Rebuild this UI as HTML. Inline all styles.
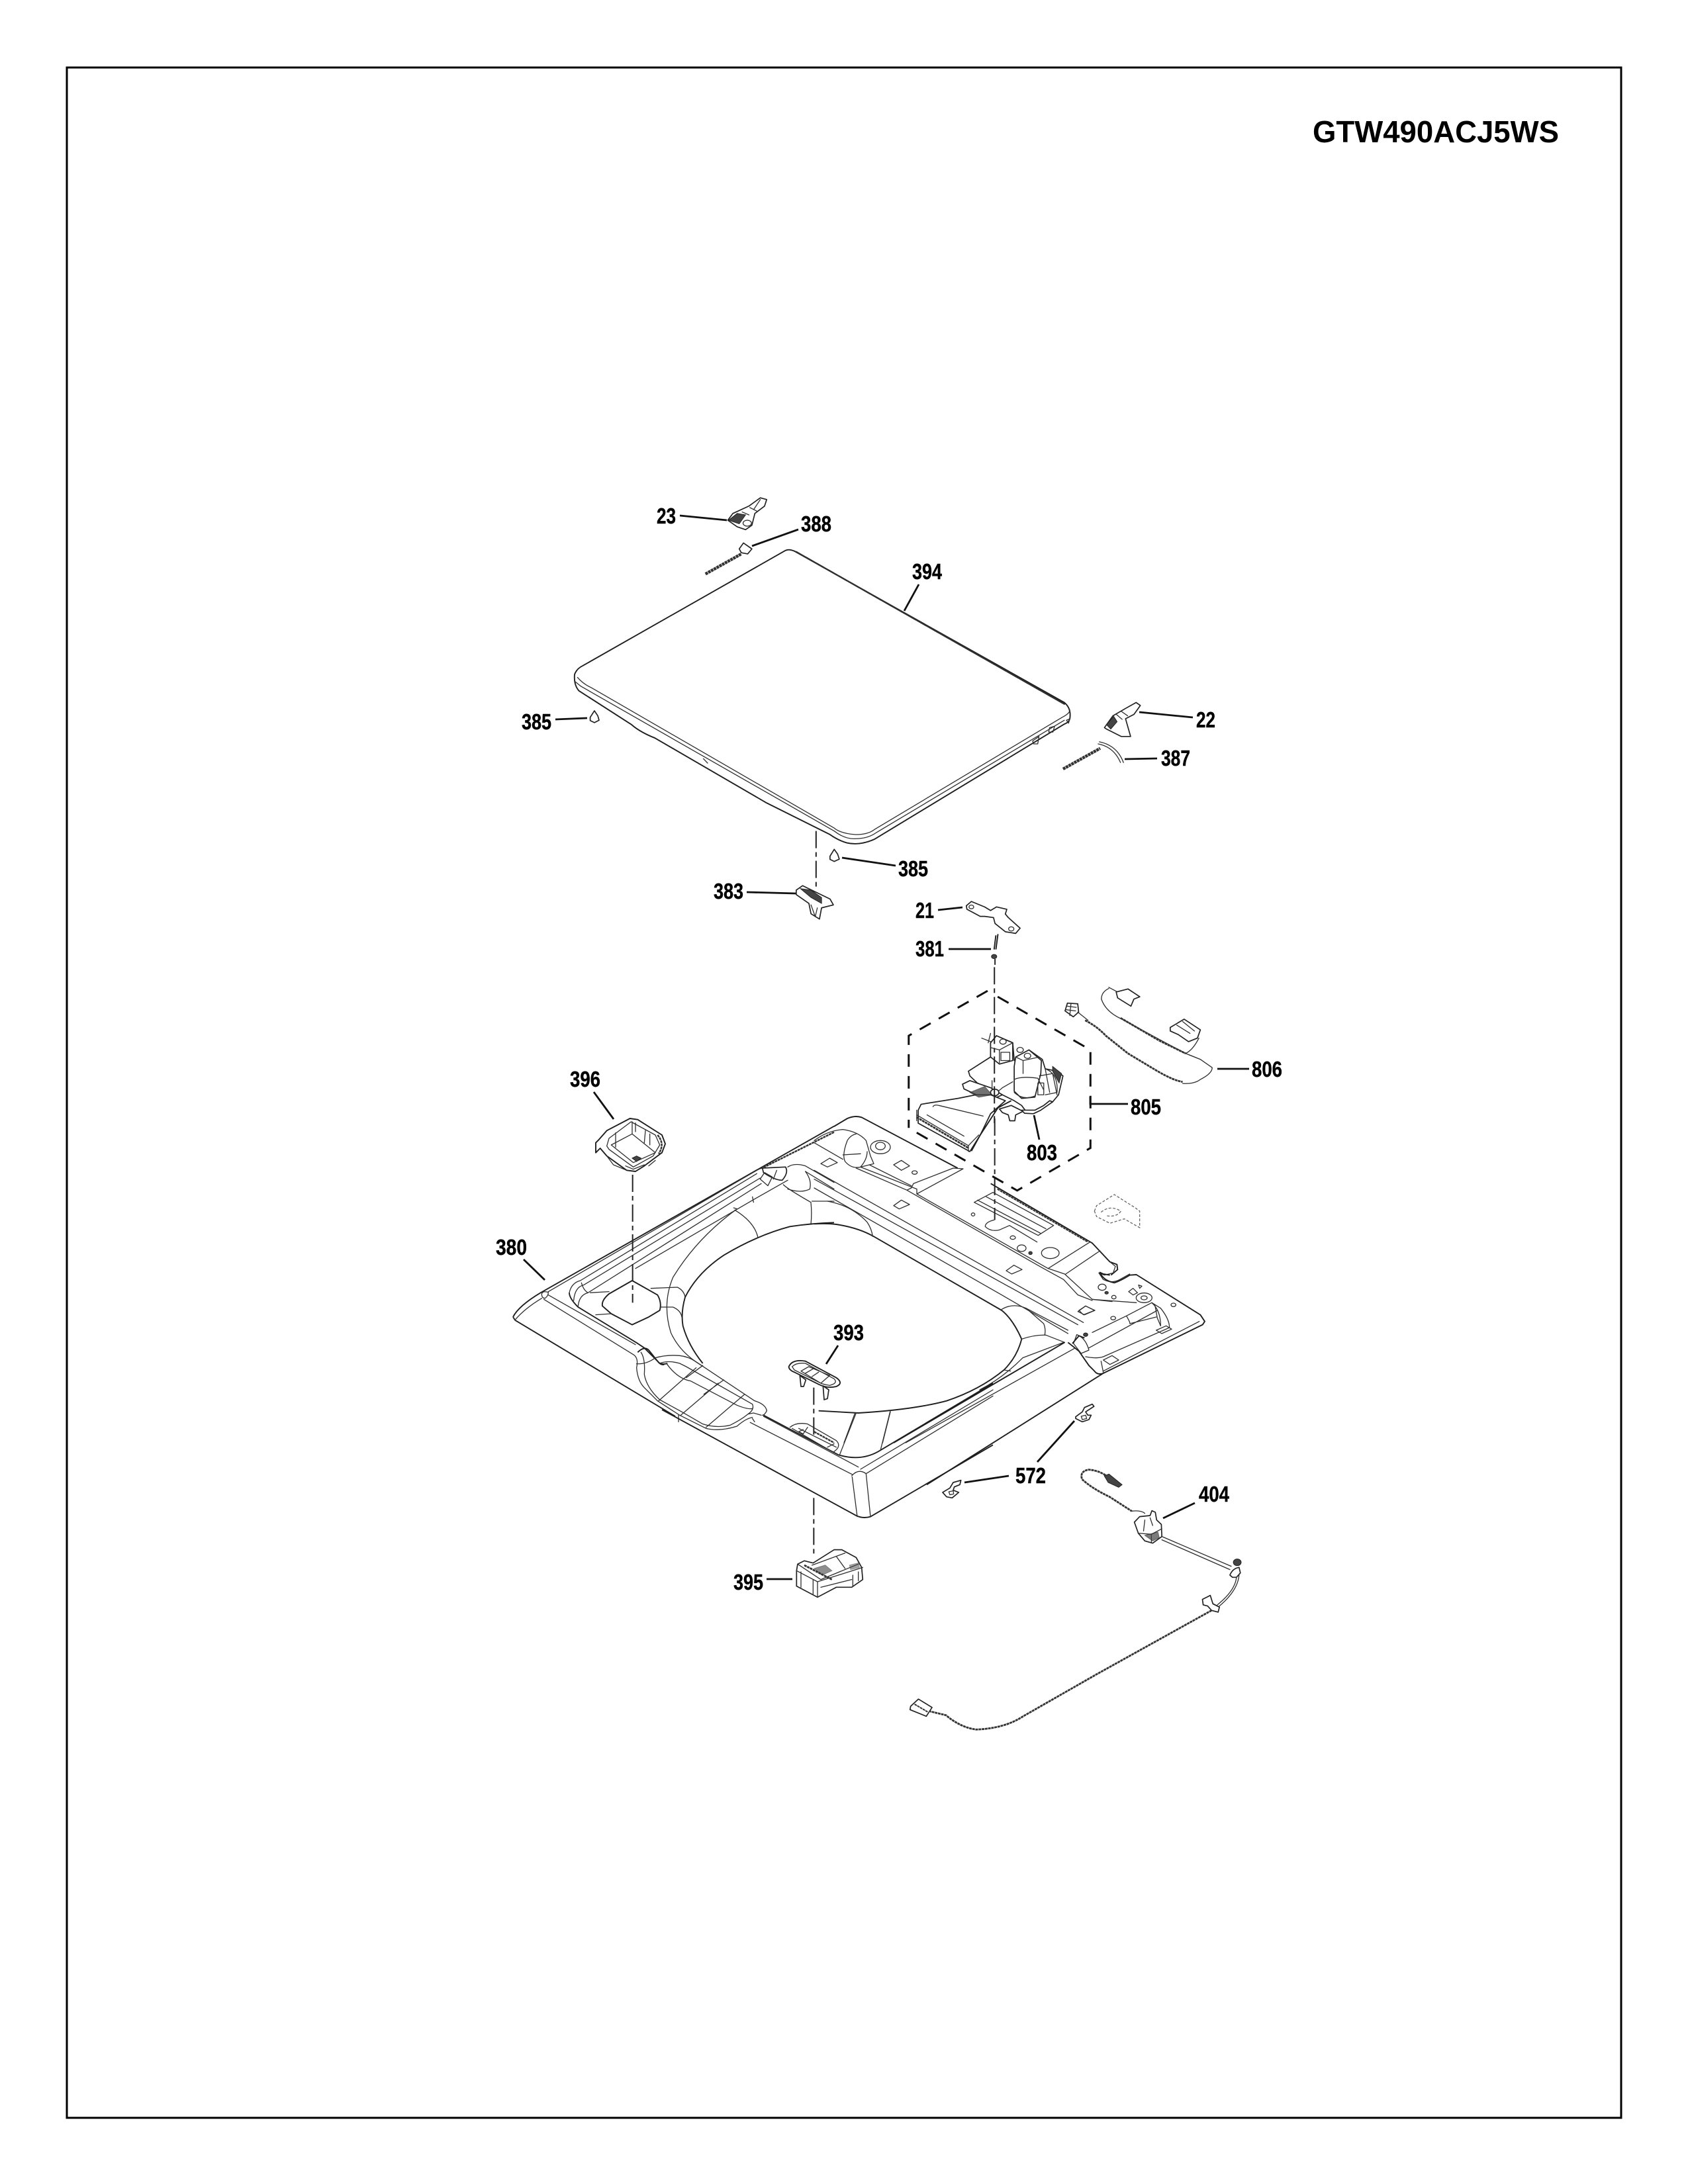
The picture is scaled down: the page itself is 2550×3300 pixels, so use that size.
<!DOCTYPE html>
<html><head><meta charset="utf-8"><style>
html,body{margin:0;padding:0;background:#fff}
svg{display:block}
svg *{vector-effect:non-scaling-stroke}
.l{fill:none;stroke:#2e2e2e;stroke-width:1.3;stroke-linejoin:round;stroke-linecap:round}
.m{fill:none;stroke:#1e1e1e;stroke-width:1.9;stroke-linejoin:round}
.p{fill:#fff;stroke:#222;stroke-width:1.7;stroke-linejoin:round}
.d{fill:#444;stroke:#222;stroke-width:1}
.w{fill:none;stroke:#333;stroke-width:2.8;stroke-dasharray:4 .8}
.ld{fill:none;stroke:#111;stroke-width:2.8}
.ax{fill:none;stroke:#222;stroke-width:2;stroke-dasharray:26 6 7 6}
.hx{fill:none;stroke:#111;stroke-width:3;stroke-dasharray:19 14}
.g{fill:none;stroke:#666;stroke-width:1.3;stroke-dasharray:4 2.5}
text{font-family:"Liberation Sans",sans-serif;font-weight:bold;fill:#000;font-size:33px;stroke:#000;stroke-width:.4}
</style></head><body>
<svg xmlns="http://www.w3.org/2000/svg" width="2550" height="3300" viewBox="0 0 2550 3300">
<rect width="2550" height="3300" fill="#fff"/>
<rect x="101" y="102" width="2348" height="3098" fill="none" stroke="#000" stroke-width="3"/>
<text x="1983" y="215" style="font-size:46px;stroke-width:0" textLength="372" lengthAdjust="spacingAndGlyphs">GTW490ACJ5WS</text>

<!-- TRAY left (crop 760,1640) -->
<g transform="translate(760,1640) scale(.33333)">
<path class="m" d="M45 1050Q70 1000 170 940L1500 185M45 1050L55 1065L780 1500"/>
<path class="l" d="M175 945Q180 930 205 938Q205 955 190 965Q175 965 175 945ZM55 1062Q100 1010 175 965M205 935L1150 385Q1175 370 1190 378"/>
<path class="l" d="M300 940Q310 895 350 885L1150 400M320 975Q325 915 365 905L1165 420M340 1000Q345 950 385 940L1170 445M355 895Q365 930 385 940M600 830L1140 515L1290 430"/>
<path class="m" d="M300 940Q300 965 340 1005L610 1170L640 1190L700 1250Q715 1270 730 1265"/>
<path class="l" d="M205 950L600 1175M185 970L590 1220"/>
<path class="m" d="M585 885L700 950Q720 985 710 1020L660 1050L585 1085L490 1035L450 1000Q445 975 480 945Z"/>
<path class="l" d="M395 940L480 935M420 1040L490 1035M670 920L790 915Q820 930 825 960M715 1005L770 1005Q805 1020 810 1050M1050 565Q1140 620 1155 690M1395 530Q1400 580 1395 630M1270 450Q1290 470 1395 530M1400 525H1500M1370 390Q1400 430 1390 470Q1350 490 1290 470M1130 505L1135 530M1060 560L1045 555"/>
<path class="l" d="M1060 560Q880 690 770 870Q720 990 760 1120Q800 1210 900 1270"/>
<path class="m" d="M1500 622Q1400 625 1300 640Q1150 680 1000 770Q880 850 825 960Q805 1030 815 1090Q840 1180 905 1260"/>
<path class="p" d="M1175 375L1280 370Q1295 395 1265 430Q1230 430 1180 395Z"/>
<path class="l" d="M1165 425L1185 395L1220 415L1200 455ZM1240 385L1225 425"/>
<path class="w" d="M1180 372L1500 212" style="stroke-width:2.5"/>
<path class="l" d="M1290 370Q1320 350 1370 365L1500 440M1370 390L1500 470"/>
<!-- 396 -->
<path class="m" d="M435 245L470 205L575 150L610 155L720 225L735 265L720 305L640 365L600 390L560 385L470 320L440 285L420 305L420 260Z"/>
<path class="l" d="M470 275L480 240L580 165L690 225L710 270L680 320L590 370L480 290ZM490 270L585 220L690 305L590 350ZM585 165V220M600 170V210M510 215V280M645 205L640 260M665 220V270M470 320L500 360L560 385M660 365L690 340M555 365L590 380L640 360"/>
<path class="d" d="M585 330L605 320L625 330L605 345Z"/><path class="w" d="M700 225Q735 265 705 310" style="stroke-width:2.5"/>
<path class="ax" d="M587 405V985"/>
</g>

<!-- TRAY front/handle (crop 760,1900) -->
<g transform="translate(760,1900) scale(.33333)">
<path class="m" d="M610 430Q640 400 660 420L700 470Q715 490 745 480"/>
<path class="l" d="M590 440Q615 455 605 500Q610 560 640 590L700 650L800 715L920 775Q980 790 1060 765Q1100 730 1130 725M625 430Q645 460 640 530Q650 590 710 645L810 700L905 755Q965 775 1030 760Q1080 735 1110 710"/>
<path class="l" d="M690 455Q740 440 800 445Q840 450 870 470L1140 650Q1190 665 1195 695Q1185 715 1175 715M710 480Q750 465 800 480L830 495L1130 665Q1140 690 1110 710L1135 705L1170 715M605 482Q650 485 690 455M740 480Q790 550 850 560L1060 670Q1110 690 1130 685"/>
<path class="l" d="M705 650L875 500M805 715L975 570M920 770L1095 620M905 490L830 545M1000 555L910 620M1130 730L1140 745M795 745V715"/>
<path class="ax" d="M1408 1090V1350"/>
</g>

<!-- TRAY middle (crop 1230,1680) -->
<g transform="translate(1230,1680) scale(.33333)">
<path class="m" d="M90 66L150 30Q185 15 215 25L650 255M800 325L1260 595L1340 680L1372 692L1375 715L1345 740"/>
<path class="w" d="M830 350L1240 590" style="stroke-width:2"/>
<path class="l" d="M0 130Q60 85 130 80Q200 90 235 130L255 200L270 235L210 250Q170 260 140 225Q125 195 150 130Q165 105 190 100M240 180Q240 215 210 250M130 195L210 190"/>
<path class="l" d="M0 140L130 215M210 250L440 340L465 350V372L1060 710L1135 735L1260 850L1350 860M250 240L440 335M190 255L420 355M440 345L420 355L1030 705L1130 760L1195 830L1260 855"/>
<path class="l" d="M0 265L1220 955M0 305L1195 965M0 345L850 830M850 830L1150 1005M450 325L630 255L675 258L465 372M450 325L440 345"/>
<path class="l" d="M30 235L70 210L105 230L60 250ZM360 240L395 220L432 245L395 265ZM360 425L395 400L432 420L385 440ZM870 720L905 695L942 715L895 735ZM1195 905L1230 880L1272 900L1225 920Z"/>
<path class="l" d="M725 410L810 365L1085 515L1015 560ZM740 400L1025 550M780 385L1050 530M815 490Q775 500 775 520Q800 545 840 535L885 515L1010 590"/>
<ellipse class="l" cx="455" cy="275" rx="12" ry="8"/><ellipse class="l" cx="720" cy="465" rx="8" ry="7"/><ellipse class="l" cx="900" cy="570" rx="12" ry="8"/><ellipse class="l" cx="1070" cy="640" rx="40" ry="25"/><ellipse class="l" cx="940" cy="618" rx="20" ry="15"/><ellipse class="d" cx="980" cy="640" rx="8" ry="7"/>
<ellipse class="l" cx="300" cy="160" rx="45" ry="30"/><ellipse class="l" cx="300" cy="155" rx="22" ry="17"/>
<path class="l" d="M1060 710L1250 590M1140 735L1295 630M1340 680L1365 700L1355 730L1315 740L1290 730M1290 730L1310 760Q1350 780 1385 760L1430 735"/>
<path class="m" d="M0 508Q60 505 100 510Q200 525 270 565L850 900Q900 940 940 1030Q920 1110 860 1170Q750 1260 600 1310Q450 1350 200 1365L20 1355"/>
<path class="l" d="M60 405Q170 425 240 500Q260 530 265 565M850 895Q900 865 960 890L1040 960Q1050 985 1045 1010M940 1030Q1000 1010 1050 1012L1135 1045M960 890L1150 990M860 1170L890 1175M750 1260Q850 1210 945 1115L1130 1045"/>
<path class="l" d="M185 1365L135 1500M345 1360L310 1500"/>
<path class="m" d="M1135 1045L360 1500"/>
<path class="l" d="M1180 1072L415 1500"/>
<path class="ax" d="M818 30V490"/>
</g>

<!-- TRAY right end (crop 1400,1800) -->
<g transform="translate(1400,1800) scale(.33333)">
<path class="m" d="M830 380L800 375L785 368Q800 405 850 415Q880 405 920 380L950 378L1240 560L1260 590L1250 605L800 825Q775 835 760 815L735 790L690 725L640 685"/>
<path class="m" d="M800 825L0 1330"/>
<path class="l" d="M800 815L1235 590M750 640L905 565L1020 505L1035 520M735 710L1045 540M720 750Q770 760 800 750L1100 618Q1100 580 1060 530L1020 505M905 565Q925 600 920 600L1040 570M1035 520L1045 575L1060 610M790 770L800 820M800 765L840 745L870 765L830 785ZM1040 630L1085 610L1110 625L1065 645Z"/>
<path class="l" d="M680 650Q720 665 735 720L700 735L665 690Z"/>
<path class="m" d="M660 690L690 655L715 665"/>
<ellipse class="l" cx="985" cy="483" rx="36" ry="22"/><ellipse class="l" cx="985" cy="483" rx="14" ry="9"/>
<ellipse class="l" cx="1118" cy="515" rx="11" ry="8"/><ellipse class="l" cx="845" cy="575" rx="11" ry="8"/><ellipse class="l" cx="848" cy="480" rx="10" ry="8"/>
<ellipse class="l" cx="795" cy="435" rx="18" ry="14"/><ellipse class="d" cx="815" cy="460" rx="8" ry="6"/><ellipse class="d" cx="720" cy="650" rx="10" ry="8"/>
<path class="l" d="M915 455L935 440L955 460L935 470ZM960 425L975 430L965 440ZM690 540L720 520L760 540L710 560Z"/>
<path class="l" d="M750 490L950 505M1020 505Q1060 540 1060 610"/>
<path class="p" d="M705 1000L715 980L750 965L758 975L720 1000L730 1015L745 1015L735 1035L705 1045L675 1030L675 1022Z"/><path class="l" d="M700 1020L720 1015L725 1030L705 1035Z"/>
<path class="g" d="M760 90L770 65L850 15L945 75L965 90V165L895 125L830 145L770 115ZM790 95Q830 60 880 90Q860 120 810 110"/>
</g>

<!-- TRAY front corner (crop 1000,1950) -->
<g transform="translate(1000,1950) scale(.33333)">
<path class="m" d="M0 540L880 1020Q910 1035 945 1025L1500 700"/>
<path class="l" d="M400 598L865 835M460 570L890 800M860 840Q890 805 925 830L1500 478M900 810L1500 450M862 845L885 1025M925 830L945 1025"/>
<path class="m" d="M460 565L800 745Q900 775 980 730L1500 420"/>
<path class="l" d="M880 555L805 745M1035 545L990 725M580 620Q610 595 660 605L790 680Q815 705 780 730M590 625L770 730M640 630L620 640L640 650L660 620M620 625L790 710M750 710L780 695"/>
<path class="w" d="M690 640L780 690" style="stroke-width:2.4"/>
<path class="m" d="M575 345Q590 310 650 320L790 395Q825 420 790 435Q750 445 710 425L600 370Q575 360 575 345Z"/>
<path class="l" d="M590 345Q610 325 650 330L780 400Q800 420 760 430Q730 425 720 420L600 360ZM630 365L665 345L760 385L720 420ZM650 375L685 355M680 390L710 370"/>
<path class="p" d="M625 385L630 435L642 435L652 405ZM730 432L735 495L750 490L756 450Z"/>
<path class="ax" d="M688 440V660"/>
<path class="p" d="M1272 915L1305 895L1320 870L1355 860L1350 880L1325 890L1320 905L1345 915L1315 940L1290 935Z"/><path class="l" d="M1300 912L1320 908L1322 922L1305 926Z"/>
</g>

<!-- LID (crop 750,720 anisotropic) -->
<g transform="translate(750,720) scale(.6378,.4464)">
<path class="m" d="M685 250Q693 245 705 252L1345 765Q1362 785 1358 820Q1356 832 1345 838L895 1228Q860 1250 830 1240Q810 1232 790 1212L640 1105L375 885Q340 865 320 840L195 725Q183 705 185 670Q190 650 205 640Z"/>
<path class="l" d="M192 680Q205 702 225 715L800 1190Q815 1208 850 1212Q880 1212 895 1195L1340 815Q1358 802 1358 790M187 695L200 710L800 1200Q825 1228 850 1226Q880 1226 900 1205L1345 825M490 955L500 970M1270 895L1285 880L1282 905L1272 905ZM1310 850L1322 845L1318 865L1308 865ZM1350 825L1358 820L1355 835Z"/>
<path class="l" d="M710 255L1345 770" style="stroke-width:2.4;stroke-dasharray:2 1"/>
<path class="p" d="M548 148L560 125L598 100L625 72L640 78L635 100L612 125L605 165L590 180L570 170Z"/>
<path class="l" d="M600 105L618 118M582 120L598 130M625 78L610 110"/><path class="d" d="M550 148L570 125L590 130L575 160Z"/><circle class="l" cx="594" cy="158" r="10"/>
<path class="w" d="M495 330L580 262" style="stroke-width:4.5"/><path class="p" d="M575 245L585 225L605 245L595 262L580 258Z"/>
<path class="p" d="M222 815L232 793L240 810L243 825L232 833L222 826Z"/>
<path class="p" d="M790 1285L800 1262L808 1278L812 1295L800 1303L790 1296Z"/>
<path class="p" d="M710 1400L725 1385L790 1430L798 1450L770 1460L765 1498L745 1480L740 1445L710 1415Z"/>
<path class="d" d="M720 1395L745 1400L770 1425L770 1445L745 1425Z"/><path class="l" d="M745 1450L755 1490M760 1460L755 1490"/>
<path class="p" d="M1440 850L1460 810L1490 785L1515 765L1525 775L1510 805L1490 820L1502 880L1480 880L1445 855Z"/>
<path class="l" d="M1480 795L1495 810M1468 805L1482 822"/><path class="d" d="M1445 840L1462 812L1470 830L1455 855Z"/>
<path class="w" d="M1342 990L1430 920" style="stroke-width:4.5"/><path class="l" d="M1428 898Q1470 910 1485 968M1425 905Q1462 915 1478 968"/>
<path class="ax" d="M757 1200V1390"/>
</g>

<!-- VALVE (crop 1300,1340 anisotropic) -->
<g transform="translate(1300,1340) scale(.4464,.3571)">
<path class="p" d="M358 80L375 62L420 85L440 100L460 85L495 95L490 115L500 130L540 175L525 197L490 190L455 155L450 130L420 125L405 125L360 95Z"/>
<circle class="l" cx="375" cy="85" r="8"/><circle class="l" cx="510" cy="178" r="9"/>
<path class="m" d="M465 200L458 265M458 205L452 265"/><circle class="d" cx="452" cy="295" r="9"/><path class="m" d="M455 305V330"/>
<path class="p" d="M365 780L440 720L440 660L460 630L515 660L520 735L570 690L615 730L625 770L665 780L685 800L670 880L650 910L600 945L560 950L545 925L520 905L480 880L395 830L370 800Z"/>
<path class="p" d="M345 835L370 820L440 850L480 880L435 905L350 855Z"/>
<path class="p" d="M195 945L205 920L330 895L390 880L440 880L490 905L440 960L405 1050L370 1120L195 1000Z"/>
<path class="l" d="M190 965L365 1095L400 1050M245 930Q250 920 265 925L415 970M225 965L350 1055M190 945V990M365 1095V1120"/>
<path class="w" d="M190 975L365 1105"/>
<path class="p" d="M520 760L525 720L570 690L612 735L610 790L590 890L545 895L520 865Z"/>
<path class="p" d="M440 660L460 630L515 660L515 735L470 750L440 720Z"/>
<path class="l" d="M520 870Q550 905 590 885M520 815Q545 800 600 810M445 820V860Q455 880 480 850L515 825M440 680L470 690L515 660M470 690V745M525 720L550 735L605 720M410 640L440 655M440 620L432 660M550 735V790M600 810L620 860M605 800L650 790L665 880M625 770L640 870M475 700h30v35h-30zM600 830h20v50h-20z"/>
<circle class="l" cx="482" cy="655" r="11"/><circle class="l" cx="540" cy="690" r="11"/><circle class="l" cx="565" cy="715" r="11"/>
<path class="d" d="M650 760L680 790L672 830L650 780Z"/>
<path class="l" d="M625 770Q670 790 665 870L625 880"/>
<path class="d" d="M370 870L420 845L445 880L400 890Z" style="opacity:.75"/>
<path class="p" d="M470 940L510 925L550 950L525 965L522 990L505 990L500 965L480 955Z"/>
<path class="p" d="M545 945L590 945L620 925L640 905L650 910L610 945L585 960L555 958Z"/>
<path class="p" d="M440 870a14 14 0 1 0 28 0a14 14 0 1 0 -28 0Z"/>
<path class="m" d="M510 905L465 935L405 1050L375 1118"/>
<path class="w" d="M760 565Q800 590 830 630L905 705L1005 780Q1060 820 1090 825"/><path class="l" d="M840 430Q815 445 815 475Q830 530 885 560L1010 645L1100 705L1150 730L1190 765Q1190 790 1150 815Q1130 835 1090 832"/>
<path class="w" d="M880 555L1010 650L1100 705"/>
<path class="l" d="M1100 705Q1125 690 1145 640M1110 710L1150 730M840 425L870 445"/>
<path class="p" d="M865 445L905 432L945 465L925 475L915 505L870 470Z"/>
<path class="p" d="M1048 595L1095 560L1150 605L1140 640L1110 655L1075 625L1048 610Z"/><path class="l" d="M1070 585L1115 620M1090 570L1130 610"/>
<path class="p" d="M692 525L700 492L735 495L738 530L720 550Z"/><path class="l" d="M700 505L730 510M696 520L728 525M712 495L708 545M735 530L770 565"/>
<path class="ax" d="M453 340V1000"/>
<path class="hx" d="M430 440L163 630V1020M190 1040L530 1285L778 1105V690L460 462"/>
</g>

<!-- HARNESS (crop 1340,2150 anisotropic) -->
<g transform="translate(1340,2150) scale(.3954,.3333)">
<path class="w" d="M845 245Q810 215 770 212Q735 220 745 255Q780 295 850 335L935 400"/>
<path class="d" d="M830 240L848 232L898 280L885 292L845 270Z"/>
<path class="l" d="M935 400Q970 395 985 410"/>
<path class="p" d="M945 450L965 425L1005 420L1012 398L1025 405L1030 440L1048 460L1050 515L1015 545L985 535L960 500Z"/>
<path class="l" d="M960 500L1010 505L1050 480M985 440L980 490M1010 505V540M1005 430L1015 465"/>
<path class="d" d="M985 510L1035 495L1040 520L1015 535Z" style="opacity:.7"/>
<path class="l" d="M1050 515L1315 650M1050 530L1310 665"/>
<path class="p" d="M1310 690Q1320 660 1345 655L1350 680L1335 700L1320 700Z"/><circle class="d" cx="1338" cy="632" r="15"/>
<path class="l" d="M1345 690Q1340 760 1270 830M1335 700Q1330 760 1262 825"/>
<path class="p" d="M1205 800L1235 782L1245 820L1270 835L1265 858L1240 850L1225 830L1208 825Z"/>
<path class="w" d="M1240 850L800 1140L520 1330Q450 1385 340 1390Q280 1380 225 1325L165 1308"/>
<path class="p" d="M90 1285L120 1252L172 1290L150 1330L88 1300Z"/><path class="w" d="M105 1275L155 1310" style="stroke-width:2"/>
</g>

<!-- 395 -->
<g transform="translate(1090,2290) scale(.3333)">
<path class="p" d="M340 250L345 220L375 205L415 215L510 155L545 155L610 190L635 235L640 290L590 325L520 325L435 370L340 320Z"/>
<path class="l" d="M340 250L435 300V370M435 300L640 235M360 255V325M415 290V355M345 220L450 290L620 220M410 225L560 170M520 185L560 240M595 270V320M620 255V295M450 325L590 290"/>
<path class="w" d="M375 225L500 290"/><path class="d" d="M420 240L470 225L500 250L455 270Z" style="opacity:.6"/><path class="d" d="M580 225L620 215L625 235L585 245Z" style="opacity:.5"/>
</g>

<!-- leaders -->
<path class="ld" d="M1027 779L1098 786M1136 825L1206 800M1366 923L1388 883M839 1087L887 1085M1272 1296L1353 1308M1128 1348L1202 1350"/>
<path class="ld" d="M1417 1375L1454 1371M1433 1434H1497M1839 1615H1887M1647 1657V1668H1704M1562 1685L1570 1722M1721 1076L1802 1084M1699 1147L1748 1146"/>
<path class="ld" d="M897 1650L927 1691M791 1903L823 1934M1266 2033L1248 2061M1623 2147L1567 2209M1524 2230L1457 2240M1805 2271L1757 2294M1158 2386L1197 2386"/>

<!-- labels -->
<text x="992" y="791" textLength="29" lengthAdjust="spacingAndGlyphs">23</text>
<text x="1210" y="803" textLength="46" lengthAdjust="spacingAndGlyphs">388</text>
<text x="1378" y="875" textLength="45" lengthAdjust="spacingAndGlyphs">394</text>
<text x="788" y="1102" textLength="45" lengthAdjust="spacingAndGlyphs">385</text>
<text x="1807" y="1099" textLength="29" lengthAdjust="spacingAndGlyphs">22</text>
<text x="1754" y="1157" textLength="44" lengthAdjust="spacingAndGlyphs">387</text>
<text x="1357" y="1324" textLength="45" lengthAdjust="spacingAndGlyphs">385</text>
<text x="1078" y="1358" textLength="45" lengthAdjust="spacingAndGlyphs">383</text>
<text x="1383" y="1387" textLength="28" lengthAdjust="spacingAndGlyphs">21</text>
<text x="1383" y="1445" textLength="43" lengthAdjust="spacingAndGlyphs">381</text>
<text x="1891" y="1627" textLength="46" lengthAdjust="spacingAndGlyphs">806</text>
<text x="1708" y="1684" textLength="46" lengthAdjust="spacingAndGlyphs">805</text>
<text x="1551" y="1753" textLength="46" lengthAdjust="spacingAndGlyphs">803</text>
<text x="861" y="1642" textLength="46" lengthAdjust="spacingAndGlyphs">396</text>
<text x="749" y="1896" textLength="47" lengthAdjust="spacingAndGlyphs">380</text>
<text x="1259" y="2025" textLength="46" lengthAdjust="spacingAndGlyphs">393</text>
<text x="1534" y="2241" textLength="46" lengthAdjust="spacingAndGlyphs">572</text>
<text x="1811" y="2269" textLength="46" lengthAdjust="spacingAndGlyphs">404</text>
<text x="1108" y="2402" textLength="45" lengthAdjust="spacingAndGlyphs">395</text>
</svg>
</body></html>
